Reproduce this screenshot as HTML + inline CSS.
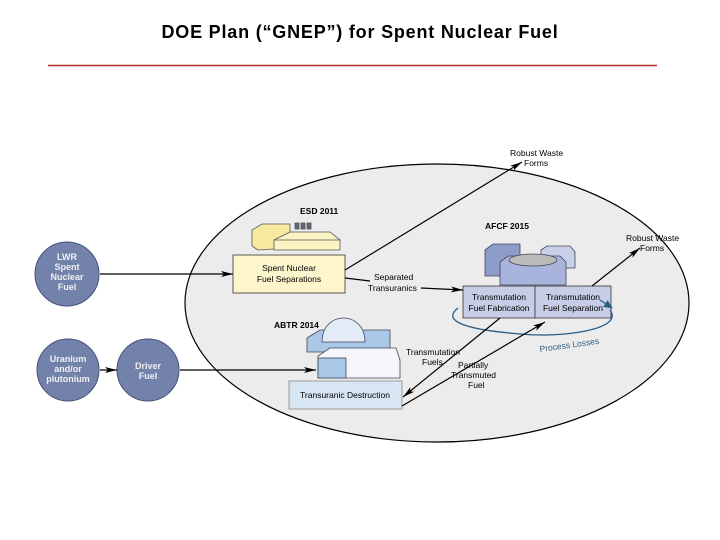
<!DOCTYPE html>
<html><head><style>
html,body{margin:0;padding:0;background:#fff;}
svg{display:block;font-family:"Liberation Sans",Arial,sans-serif;}
</style></head><body>
<svg width="720" height="540" viewBox="0 0 720 540" xmlns="http://www.w3.org/2000/svg">
<defs>
<marker id="ah" markerWidth="12" markerHeight="6" refX="12" refY="3" orient="auto" markerUnits="userSpaceOnUse"><path d="M0,0 L12,3 L0,6 L3,3 z" fill="#000"/></marker>
<marker id="bh" markerWidth="10" markerHeight="8" refX="8" refY="4" orient="auto" markerUnits="userSpaceOnUse"><path d="M0,0 L9,4 L0,8 z" fill="#2a5d85"/></marker>
</defs>
<text x="360" y="38" text-anchor="middle" font-size="18" font-weight="bold" letter-spacing="0.8">DOE Plan (“GNEP”) for Spent Nuclear Fuel</text>
<line x1="48" y1="65.5" x2="657" y2="65.5" stroke="#b03030" stroke-width="1.5"/>

<ellipse cx="437" cy="303" rx="252" ry="139" fill="#ececec" stroke="#000" stroke-width="1.2"/>

<g fill="#7282ab" stroke="#44507a" stroke-width="1">
<circle cx="67" cy="274" r="32"/>
<circle cx="68" cy="370" r="31"/>
<circle cx="148" cy="370" r="31"/>
</g>
<g fill="#f0f0f0" font-size="9" font-weight="bold" text-anchor="middle">
<text x="67" y="260">LWR</text><text x="67" y="270">Spent</text><text x="67" y="280">Nuclear</text><text x="67" y="290">Fuel</text>
<text x="68" y="362">Uranium</text><text x="68" y="372">and/or</text><text x="68" y="382">plutonium</text>
<text x="148" y="369">Driver</text><text x="148" y="379">Fuel</text>
</g>

<g stroke="#555" stroke-width="0.8">
<path d="M252,230 L262,224 L290,224 L290,248 L258,250 L252,246 z" fill="#f6eaa0"/>
<path d="M274,240 L290,232 L330,232 L340,240 L340,250 L274,250 z" fill="#fbf3c4"/>
<path d="M274,240 L340,240" fill="none"/>
<rect x="295" y="223" width="4" height="6" fill="#667"/><rect x="301" y="223" width="4" height="6" fill="#667"/><rect x="307" y="223" width="4" height="6" fill="#667"/>
</g>
<text x="300" y="214" font-size="8.5" font-weight="bold">ESD 2011</text>
<rect x="233" y="255" width="112" height="38" fill="#fdf5cc" stroke="#333" stroke-width="0.8"/>
<text x="289" y="271" font-size="8.5" text-anchor="middle">Spent Nuclear</text>
<text x="289" y="282" font-size="8.5" text-anchor="middle">Fuel Separations</text>

<g stroke="#445" stroke-width="0.8">
<path d="M485,250 L493,244 L520,244 L520,276 L485,276 z" fill="#8e9ccc"/>
<path d="M541,250 L547,246 L570,246 L575,252 L575,268 L541,268 z" fill="#c8d0ea"/>
<path d="M500,262 L508,256 L560,256 L566,262 L566,285 L500,285 z" fill="#a9b4dd"/>
<ellipse cx="533" cy="260" rx="24" ry="6" fill="#bbb"/>
</g>
<text x="485" y="229" font-size="8.5" font-weight="bold">AFCF 2015</text>
<rect x="463" y="286" width="72" height="32" fill="#c7cde6" stroke="#333" stroke-width="0.8"/>
<rect x="535" y="286" width="76" height="32" fill="#c7cde6" stroke="#333" stroke-width="0.8"/>
<g font-size="8.5" text-anchor="middle">
<text x="499" y="300">Transmutation</text><text x="499" y="311">Fuel Fabrication</text>
<text x="573" y="300">Transmutation</text><text x="573" y="311">Fuel Separation</text>
</g>

<g stroke="#445" stroke-width="0.8">
<path d="M307,338 L320,330 L390,330 L390,352 L307,352 z" fill="#a9c8e8"/>
<path d="M322,342 C322,310 365,310 365,342 z" fill="#e3ecf6"/>
<path d="M318,356 L330,348 L396,348 L400,360 L400,378 L318,378 z" fill="#f4f6fa"/>
<rect x="318" y="358" width="28" height="20" fill="#a9c8e8"/>
</g>
<text x="274" y="328" font-size="8.5" font-weight="bold">ABTR 2014</text>
<rect x="289" y="381" width="113" height="28" fill="#d8e6f4" stroke="#888" stroke-width="0.8"/>
<text x="345" y="398" font-size="8.5" text-anchor="middle">Transuranic Destruction</text>

<path d="M610,310 C625,330 560,338 520,334 C470,330 440,322 458,308" fill="none" stroke="#2a5d85" stroke-width="1.3"/>
<path d="M600,300 L612,308" stroke="#2a5d85" stroke-width="1.3" marker-end="url(#bh)"/>
<text x="540" y="352" font-size="8.5" fill="#2a5d85" transform="rotate(-8 540 352)">Process Losses</text>

<g stroke="#000" stroke-width="1.2" fill="none">
<line x1="100" y1="274" x2="233" y2="274" marker-end="url(#ah)"/>
<line x1="100" y1="370" x2="117" y2="370" marker-end="url(#ah)"/>
<line x1="180" y1="370" x2="316" y2="370" marker-end="url(#ah)"/>
<line x1="345" y1="270" x2="522" y2="162" marker-end="url(#ah)"/>
<line x1="345" y1="278" x2="370" y2="281"/>
<line x1="421" y1="288" x2="463" y2="290" marker-end="url(#ah)"/>
<line x1="592" y1="286" x2="640" y2="248" marker-end="url(#ah)"/>
<line x1="500" y1="318" x2="403" y2="397" marker-end="url(#ah)"/>
<line x1="402" y1="406" x2="545" y2="322" marker-end="url(#ah)"/>
</g>
<g font-size="8.5">
<text x="510" y="156">Robust Waste</text><text x="524" y="166">Forms</text>
<text x="626" y="241">Robust Waste</text><text x="640" y="251">Forms</text>
<text x="374" y="280">Separated</text><text x="368" y="291">Transuranics</text>
<text x="406" y="355">Transmutation</text><text x="422" y="365">Fuels</text>
<text x="458" y="368">Partially</text><text x="451" y="378">Transmuted</text><text x="468" y="388">Fuel</text>
</g>
</svg>
</body></html>
